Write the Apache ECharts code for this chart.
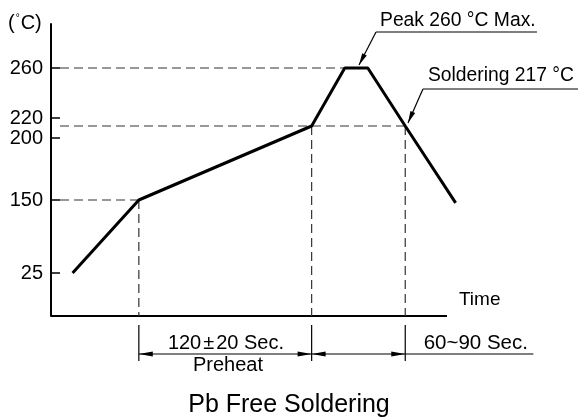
<!DOCTYPE html>
<html><head><meta charset="utf-8">
<script src="https://cdn.jsdelivr.net/npm/echarts@6/dist/echarts.min.js"></script>
<style>html,body{margin:0;padding:0;background:#fff}#c{width:578px;height:417px}</style>
</head><body><div id="c"></div>
<script>
// Reflow profile: time (s, schematic) and temperature (°C)
const profileTime = [15, 61, 181, 204, 220, 246, 281];
const profileTemp = [25, 150, 217, 260, 260, 217, 145];
// Y tick labels (°C)
const yTickTemps = [25, 150, 200, 220, 260];
// Schematic (non-linear) temperature scale anchors: temperature -> axis level
const scaleTemps  = [0, 25, 150, 200, 217, 220, 260, 292];
const scaleLevels = [0, 43, 116, 178, 190, 198, 248, 292];
// Key events
const preheatStart = 61, preheatEnd = 181, liquidusEnd = 246, endTime = 335, timeAxisEnd = 275;
const peakTemp = 260, solderTemp = 217, preheatTemp = 150;
const peakStart = 204;
const texts = {
  time: 'Time', preheatDur: '120±20 Sec.', preheat: 'Preheat', reflowDur: '60~90 Sec.',
  peak: 'Peak 260 °C Max.', solder: 'Soldering 217 °C', title: 'Pb Free Soldering'
};

function lv(t) {
  for (let i = 0; i < scaleTemps.length - 1; i++) {
    if (t <= scaleTemps[i + 1]) {
      const f = (t - scaleTemps[i]) / (scaleTemps[i + 1] - scaleTemps[i]);
      return scaleLevels[i] + f * (scaleLevels[i + 1] - scaleLevels[i]);
    }
  }
  return scaleLevels[scaleLevels.length - 1];
}
const tickLevels = yTickTemps.map(lv);
const FONT = '"Liberation Sans", Arial, sans-serif';

const chart = echarts.init(document.getElementById('c'), null, {renderer: 'canvas'});

function arrowHead(tip, from, len, hw) {
  const dx = tip[0] - from[0], dy = tip[1] - from[1];
  const d = Math.sqrt(dx * dx + dy * dy);
  const ux = dx / d, uy = dy / d;
  const bx = tip[0] - ux * len, by = tip[1] - uy * len;
  return {type: 'polygon', shape: {points: [tip, [bx - uy * hw, by + ux * hw], [bx + uy * hw, by - ux * hw]]},
          style: {fill: '#000'}};
}
function line(a, b, w, dash) {
  return {type: 'line', shape: {x1: a[0], y1: a[1], x2: b[0], y2: b[1]},
          style: {stroke: dash ? '#333' : '#000', lineWidth: w, lineDash: dash || null}};
}
function txt(p, s, size, align, rich) {
  return {type: 'text', x: p[0], y: p[1], style: {text: s, fill: '#000', font: size + 'px ' + FONT,
          align: align, verticalAlign: 'middle', rich: rich || undefined}};
}

function renderAnn(params, api) {
  const P = (x, l) => api.coord([x, l]);
  const ch = [];
  const dash = [9, 5];
  const x0 = 6.25;
  // time axis line
  ch.push(line(P(0, 0), P(timeAxisEnd, 0), 2));
  // horizontal dashed guides
  ch.push(line(P(x0, lv(peakTemp)), P(peakStart, lv(peakTemp)), 1.2, dash));
  ch.push(line(P(x0, lv(solderTemp)), P(liquidusEnd, lv(solderTemp)), 1.2, dash));
  ch.push(line(P(x0, lv(preheatTemp)), P(preheatStart, lv(preheatTemp)), 1.2, dash));
  // vertical dashed guides
  ch.push(line(P(preheatStart, lv(preheatTemp)), P(preheatStart, 0), 1.2, dash));
  ch.push(line(P(preheatEnd, lv(solderTemp)), P(preheatEnd, 0), 1.2, dash));
  ch.push(line(P(liquidusEnd, lv(solderTemp)), P(liquidusEnd, 0), 1.2, dash));
  // dimension extension lines below axis
  [preheatStart, preheatEnd, liquidusEnd].forEach(x => ch.push(line(P(x, -9), P(x, -45), 1.2)));
  // dimension lines
  const dl = -38;
  [[preheatStart, preheatEnd], [preheatEnd, liquidusEnd]].forEach(([a, b]) => {
    const A = P(a, dl), B = P(b, dl);
    ch.push(line(A, B, 1.2));
    ch.push(arrowHead(A, B, 14, 2.6));
    ch.push(arrowHead(B, A, 14, 2.6));
  });
  ch.push(line(P(liquidusEnd, dl), P(endTime, dl), 1.2));
  // callouts
  const pk0 = P(225.7, 284), pk1 = P(337.5, 284), pkTip = P(213.9, 251);
  ch.push(line(pk0, pk1, 1.2));
  ch.push(line(pk0, pkTip, 1.2));
  ch.push(arrowHead(pkTip, pk0, 12, 2.6));
  const sd0 = P(258.3, 227), sd1 = P(370, 227), sdTip = P(247.9, 193);
  ch.push(line(sd0, sd1, 1.2));
  ch.push(line(sd0, sdTip, 1.2));
  ch.push(arrowHead(sdTip, sd0, 12, 2.6));
  // texts
  ch.push(txt(P(228.5, 295), texts.peak, 19.3, 'left'));
  ch.push(txt(P(261.8, 240), texts.solder, 19.3, 'left'));
  ch.push(txt(P(283.3, 16), texts.time, 19, 'left'));
  ch.push(txt(P(121.5, -27), texts.preheatDur.replace('±', '{pm|±}'), 20, 'center',
              {pm: {fontSize: 20, fontFamily: FONT, padding: [0, 2, 0, 2]}}));
  ch.push(txt(P(122.9, -49), texts.preheat, 20, 'center'));
  ch.push(txt(P(295, -27), texts.reflowDur, 20.5, 'center'));
  return {type: 'group', children: ch};
}

chart.setOption({
  animation: false,
  backgroundColor: '#fff',
  title: {text: texts.title, left: 'center', top: 388,
          textStyle: {fontSize: 25, fontWeight: 'normal', color: '#000', fontFamily: FONT}},
  graphic: [{type: 'text', left: 8, top: 13,
    style: {text: '({d|°}C)', font: '20px ' + FONT, fill: '#000',
            rich: {d: {fontSize: 10, fontFamily: FONT, fill: '#000', padding: [0, 1, 9, 1]}}}}],
  grid: {left: 51, right: 109.4, top: 24, bottom: 101},
  xAxis: {type: 'value', min: 0, max: 290,
          axisLine: {show: false},
          axisTick: {show: false}, axisLabel: {show: false}, splitLine: {show: false}},
  yAxis: {type: 'value', min: 0, max: 292,
          axisLine: {show: true, lineStyle: {color: '#000', width: 2}},
          axisTick: {show: true, inside: true, length: 9, customValues: tickLevels,
                     lineStyle: {color: '#000', width: 1.5}},
          axisLabel: {customValues: tickLevels, margin: 8, color: '#000', fontSize: 20, fontFamily: FONT,
                      formatter: v => {
                        const i = tickLevels.findIndex(t => Math.abs(t - v) < 0.01);
                        return i >= 0 ? String(yTickTemps[i]) : '';
                      }},
          splitLine: {show: false}},
  series: [
    {type: 'custom', renderItem: renderAnn, data: [[0, 0]], clip: false, silent: true, z: 1},
    {type: 'line', data: profileTime.map((t, i) => [t, lv(profileTemp[i])]), symbol: 'none',
     clip: false, lineStyle: {color: '#000', width: 3}, z: 3, silent: true}
  ]
});
</script></body></html>
